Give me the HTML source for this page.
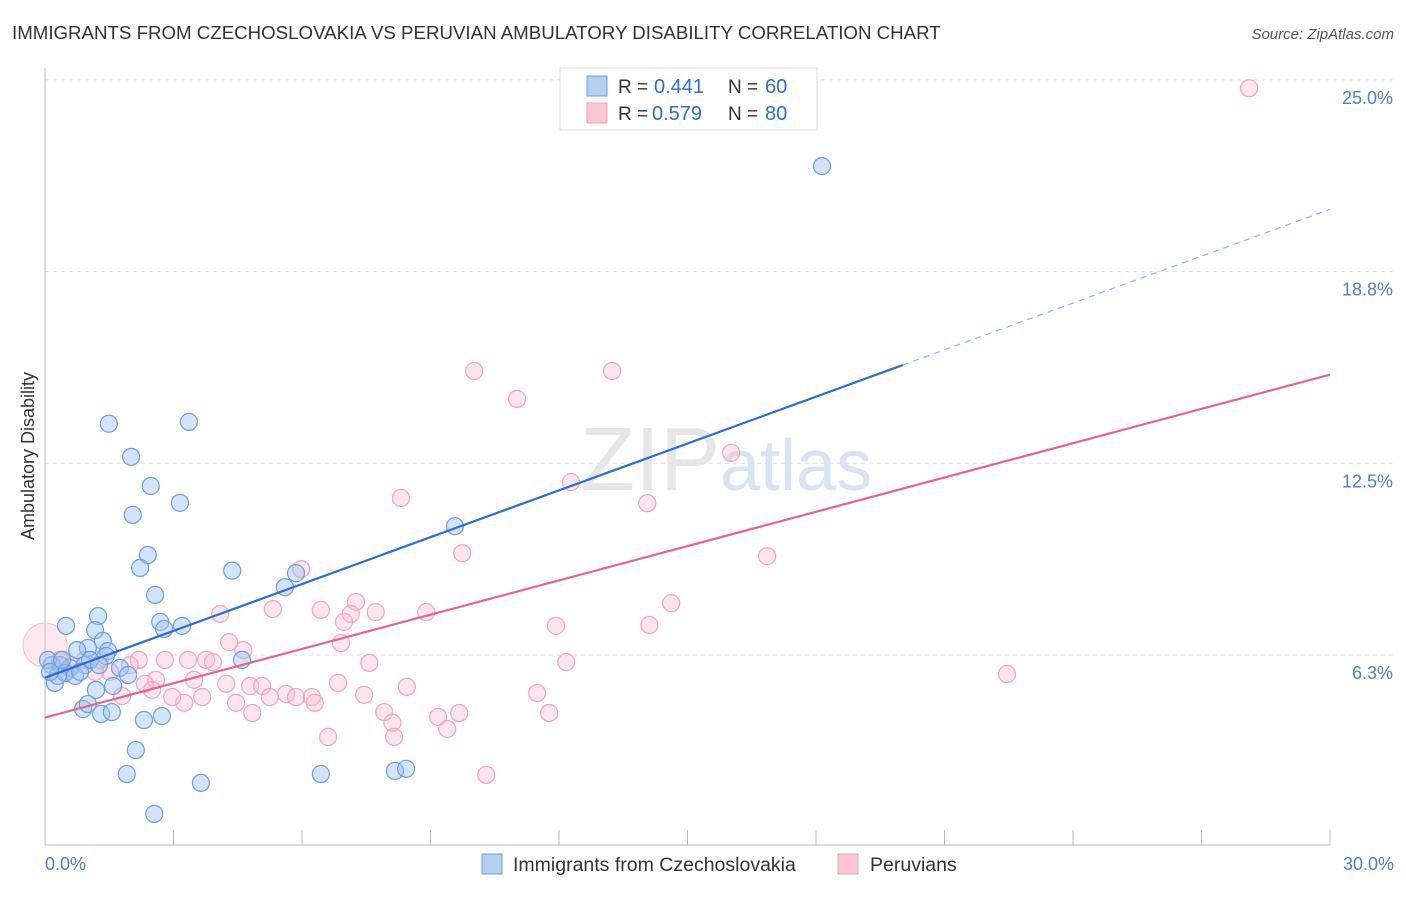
<!DOCTYPE html>
<html><head><meta charset="utf-8"><style>
body{margin:0;background:#fff;font-family:"Liberation Sans",sans-serif;}
svg text{font-family:"Liberation Sans",sans-serif;}
</style></head><body>
<svg width="1406" height="892" xmlns="http://www.w3.org/2000/svg" id="chart">
<text x="12" y="39" font-size="18.7" fill="#333">IMMIGRANTS FROM CZECHOSLOVAKIA VS PERUVIAN AMBULATORY DISABILITY CORRELATION CHART</text>
<text x="1394" y="39" font-size="15" fill="#555" font-style="italic" text-anchor="end">Source: ZipAtlas.com</text>
<text x="720" y="490" font-size="90" fill="#e6e6e6" font-family="Liberation Serif" text-anchor="end">ZIP</text>
<text x="720" y="490" font-size="72" fill="#d6e4f6">atlas</text>
<g id="grid"></g>
<line x1="45" y1="68" x2="45" y2="845" stroke="#bbb"/>
<line x1="45" y1="845" x2="1330" y2="845" stroke="#bbb"/>
<text transform="translate(34,456) rotate(-90)" font-size="18" fill="#333" text-anchor="middle">Ambulatory Disability</text>
<text x="45" y="870" font-size="18" fill="#4a7fd4">0.0%</text>
<text x="1394" y="870" font-size="18" fill="#4a7fd4" text-anchor="end">30.0%</text>
<g id="points"></g>
<g id="lines"></g>
<g>
<rect x="560" y="68" width="257" height="62" fill="#fff" stroke="#ddd"/>
<rect x="587" y="76" width="20" height="20" fill="#b5cff2" stroke="#6a9fe0"/>
<rect x="587" y="103" width="20" height="20" fill="#f9c6d6" stroke="#f0a0b8"/>
<text x="618" y="93" font-size="19" fill="#333">R =</text>
<text x="654" y="93" font-size="20" fill="#2a6fd6">0.441</text>
<text x="728" y="93" font-size="19" fill="#333">N =</text>
<text x="765" y="93" font-size="20" fill="#2a6fd6">60</text>
<text x="618" y="120" font-size="19" fill="#333">R =</text>
<text x="652" y="120" font-size="20" fill="#2a6fd6">0.579</text>
<text x="728" y="120" font-size="19" fill="#333">N =</text>
<text x="765" y="120" font-size="20" fill="#2a6fd6">80</text>
</g>
<g>
<rect x="482" y="854" width="20" height="20" fill="#b5cff2" stroke="#6a9fe0"/>
<text x="513" y="871" font-size="19.5" fill="#333">Immigrants from Czechoslovakia</text>
<rect x="838" y="854" width="20" height="20" fill="#f9c6d6" stroke="#f0a0b8"/>
<text x="870" y="871" font-size="19.5" fill="#333">Peruvians</text>
</g>
</svg>
<script>
const yTicks=[6.25,12.5,18.75,25];
const yTickLabels=["6.3%","12.5%","18.8%","25.0%"];
const xTicks=[3,6,9,12,15,18,21,24,27,30];
const blueX=[18.14,9.57,5.86,5.60,4.60,4.37,3.36,3.15,1.49,2.01,2.47,2.05,2.40,2.22,2.57,2.69,2.78,3.20,1.24,1.17,0.49,1.35,1.47,1.42,1.00,0.75,1.75,1.94,1.59,1.19,0.89,1.00,1.31,1.56,2.31,2.73,2.12,1.91,3.64,2.55,6.44,8.17,8.43,0.23,0.35,0.16,0.58,0.93,0.47,0.30,0.07,0.70,1.05,0.40,0.82,1.26,0.12];
const blueY=[22.19,10.45,8.92,8.46,6.09,9.0,13.85,11.21,13.79,12.71,11.76,10.82,9.51,9.09,8.21,7.33,7.10,7.20,7.52,7.06,7.20,6.71,6.38,6.22,6.48,6.41,5.83,5.60,5.24,5.11,4.49,4.65,4.33,4.39,4.13,4.26,3.15,2.37,2.08,1.07,2.37,2.47,2.54,5.34,5.92,5.92,5.83,5.92,5.66,5.57,6.09,5.57,6.09,6.09,5.70,5.92,5.70];
const pinkX=[28.11,10.02,13.24,11.02,16.02,12.28,8.31,14.06,9.74,16.86,14.62,5.98,7.26,7.14,7.72,6.44,6.98,8.9,5.32,4.09,11.93,14.11,6.91,4.30,4.63,7.57,12.17,22.46,2.19,2.80,3.34,3.76,3.92,6.84,8.45,11.49,7.45,3.48,4.23,4.79,5.07,5.63,5.86,6.23,5.25,4.46,4.84,6.30,3.25,2.97,3.67,2.59,2.50,2.33,7.92,8.11,8.15,9.18,9.67,9.39,11.77,6.61,10.30,1.80,1.52,1.17,0.93,0.63,0.35,0.47,1.28,1.98];
const pinkY=[24.73,15.51,15.51,14.6,12.84,11.89,11.37,11.2,9.57,9.47,7.94,9.05,7.98,7.59,7.65,7.72,7.33,7.65,7.75,7.59,7.20,7.23,6.64,6.67,6.41,5.99,6.02,5.63,6.09,6.09,6.09,6.09,6.02,5.34,5.21,5.01,4.95,5.44,5.31,5.24,5.24,4.98,4.88,4.88,4.88,4.69,4.36,4.69,4.69,4.88,4.88,5.44,5.11,5.31,4.39,4.04,3.58,4.23,4.36,3.84,4.36,3.58,2.34,4.91,5.70,5.70,6.09,5.92,6.09,5.70,6.09,5.92];
const blueFit=[5.51,0.509];
const pinkFit=[4.21,0.3727];
const blueSolidEnd=20.03;
const NS="http://www.w3.org/2000/svg";
function sx(v){return 45+v/30*1285;}
function sy(v){return 846.7-v/6.25*191.7;}
function mk(tag,attrs,parent){const e=document.createElementNS(NS,tag);for(const k in attrs)e.setAttribute(k,attrs[k]);parent.appendChild(e);return e;}
const grid=document.getElementById('grid');
yTicks.forEach((t,i)=>{
 const l=mk('line',{x1:45,x2:1394,y1:sy(t),y2:sy(t),stroke:'#ddd','stroke-dasharray':'4,4'},grid);
 
 
 const tx=mk('text',{x:1393,y:sy(t)+24,'font-size':18,fill:'#4a7fd4','text-anchor':'end'},grid);
 tx.textContent=yTickLabels[i];
 
 
});
xTicks.forEach(t=>{
 const l=mk('line',{x1:sx(t),x2:sx(t),y1:830,y2:845,stroke:'#bbb'},grid);
 
 
});
const pts=document.getElementById('points');
const big=mk('circle',{cx:sx(0),cy:sy(6.57),r:22,fill:'rgba(248,190,210,0.35)',stroke:'rgba(240,160,184,0.6)'},pts);


pinkX.forEach((x,i)=>{
 const c=mk('circle',{cx:sx(x),cy:sy(pinkY[i]),r:8.5,fill:'rgba(248,190,210,0.4)',stroke:'#f0a6bd','stroke-width':1.2},pts);
 
 
});
blueX.forEach((x,i)=>{
 const c=mk('circle',{cx:sx(x),cy:sy(blueY[i]),r:8.5,fill:'rgba(160,196,240,0.45)',stroke:'#6a9fe0','stroke-width':1.2},pts);
 
 
});
const ln=document.getElementById('lines');
const f=(p,x)=>p[0]+p[1]*x;
let a=mk('line',{x1:sx(0),y1:sy(f(blueFit,0)),x2:sx(blueSolidEnd),y2:sy(f(blueFit,blueSolidEnd)),stroke:'#2a6fd6','stroke-width':2.2},ln);


a=mk('line',{x1:sx(blueSolidEnd),y1:sy(f(blueFit,blueSolidEnd)),x2:sx(30),y2:sy(f(blueFit,30)),stroke:'#8fb2e6','stroke-width':1.2,'stroke-dasharray':'6,5'},ln);


a=mk('line',{x1:sx(0),y1:sy(f(pinkFit,0)),x2:sx(30),y2:sy(f(pinkFit,30)),stroke:'#e8648f','stroke-width':2.2},ln);


</script>
</body></html>
